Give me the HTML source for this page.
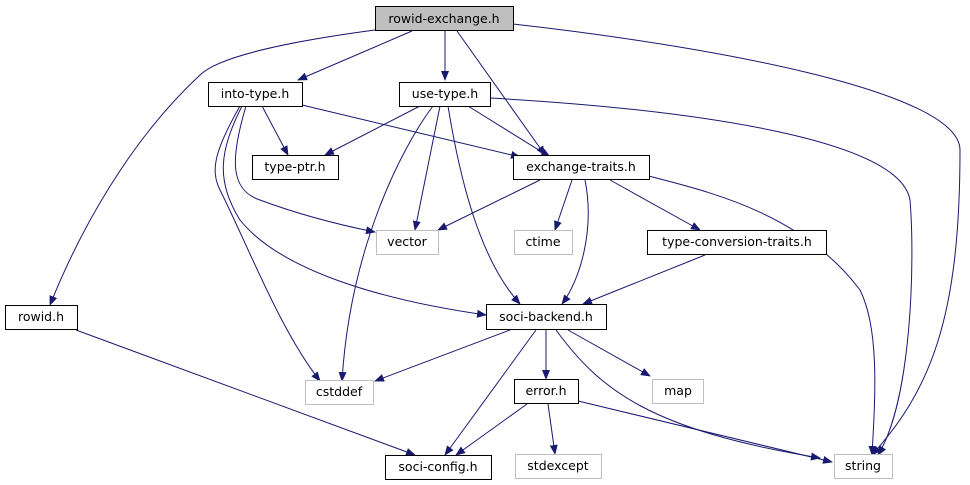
<!DOCTYPE html>
<html><head><meta charset="utf-8"><style>body{margin:0;background:#fff}svg{display:block}</style></head><body>
<svg width="970" height="485" viewBox="0 0 970 485" xmlns="http://www.w3.org/2000/svg" font-family="'DejaVu Sans','Liberation Sans',sans-serif" font-size="12.5">
<defs><marker id="a" markerWidth="10" markerHeight="8" refX="9" refY="4" orient="auto" markerUnits="userSpaceOnUse"><path d="M0,0L10,4L0,8z" fill="#191970"/></marker></defs>
<g fill="none" stroke="#191970" stroke-width="1" marker-end="url(#a)">
<path d="M412,31L298,80"/>
<path d="M375,30C300,40 220,55 200,75C130,140 80,230 50,305"/>
<path d="M445,31L445,80"/>
<path d="M457,31L545,155"/>
<path d="M513,24C700,45 960,90 960,150C960,320 930,390 872,455"/>
<path d="M262,106L288,155"/>
<path d="M302,105L520,157"/>
<path d="M246,106C230,160 230,190 260,200C300,215 340,225 375,232"/>
<path d="M242,106C220,150 215,180 240,220C280,270 380,300 486,315"/>
<path d="M240,106C215,150 210,170 220,190C250,250 280,330 320,381"/>
<path d="M420,106L325,155"/>
<path d="M433,106C400,150 350,250 342,381"/>
<path d="M440,106L415,230"/>
<path d="M448,106C460,180 480,260 520,304"/>
<path d="M468,106L550,157"/>
<path d="M490,98C700,110 900,140 910,200C915,260 912,400 878,455"/>
<path d="M540,180L438,230"/>
<path d="M572,180L555,230"/>
<path d="M585,180C595,230 580,280 562,304"/>
<path d="M610,180L700,230"/>
<path d="M649,176C700,190 800,210 860,290C880,330 875,400 872,455"/>
<path d="M705,255L583,304"/>
<path d="M76,330L415,455"/>
<path d="M510,330L375,381"/>
<path d="M536,330L445,455"/>
<path d="M546,330L546,379"/>
<path d="M568,330L650,376"/>
<path d="M556,330C600,390 650,430 820,458"/>
<path d="M527,404L456,455"/>
<path d="M548,404L555,454"/>
<path d="M578,401L832,462"/>
</g>
<g stroke-width="1">
<rect x="375.5" y="6.5" width="138" height="24" fill="#bfbfbf" stroke="#000"/>
<rect x="208.5" y="82.5" width="94" height="24" fill="#fff" stroke="#000"/>
<rect x="399.5" y="82.5" width="91" height="24" fill="#fff" stroke="#000"/>
<rect x="252.5" y="155.5" width="86" height="24" fill="#fff" stroke="#000"/>
<rect x="513.5" y="155.5" width="136" height="24" fill="#fff" stroke="#000"/>
<rect x="376.5" y="230.5" width="62" height="24" fill="#fff" stroke="#bfbfbf"/>
<rect x="514.5" y="230.5" width="58" height="24" fill="#fff" stroke="#bfbfbf"/>
<rect x="647.5" y="230.5" width="179" height="24" fill="#fff" stroke="#000"/>
<rect x="5.5" y="305.5" width="72" height="24" fill="#fff" stroke="#000"/>
<rect x="486.5" y="304.5" width="120" height="25" fill="#fff" stroke="#000"/>
<rect x="305.5" y="380.5" width="68" height="24" fill="#fff" stroke="#bfbfbf"/>
<rect x="514.5" y="379.5" width="64" height="24" fill="#fff" stroke="#000"/>
<rect x="652.5" y="379.5" width="51" height="24" fill="#fff" stroke="#bfbfbf"/>
<rect x="385.5" y="455.5" width="106" height="24" fill="#fff" stroke="#000"/>
<rect x="515.5" y="454.5" width="86" height="24" fill="#fff" stroke="#bfbfbf"/>
<rect x="834.5" y="454.5" width="58" height="24" fill="#fff" stroke="#bfbfbf"/>
</g>
<g fill="#000" text-anchor="middle">
<text x="444" y="23">rowid-exchange.h</text>
<text x="255" y="98">into-type.h</text>
<text x="445" y="98">use-type.h</text>
<text x="295" y="171">type-ptr.h</text>
<text x="581" y="171">exchange-traits.h</text>
<text x="407" y="246">vector</text>
<text x="543" y="246">ctime</text>
<text x="737" y="246">type-conversion-traits.h</text>
<text x="41" y="321">rowid.h</text>
<text x="546" y="321">soci-backend.h</text>
<text x="339" y="396">cstddef</text>
<text x="546" y="395">error.h</text>
<text x="678" y="395">map</text>
<text x="438" y="471">soci-config.h</text>
<text x="558" y="470">stdexcept</text>
<text x="863" y="470">string</text>
</g>
</svg>
</body></html>
